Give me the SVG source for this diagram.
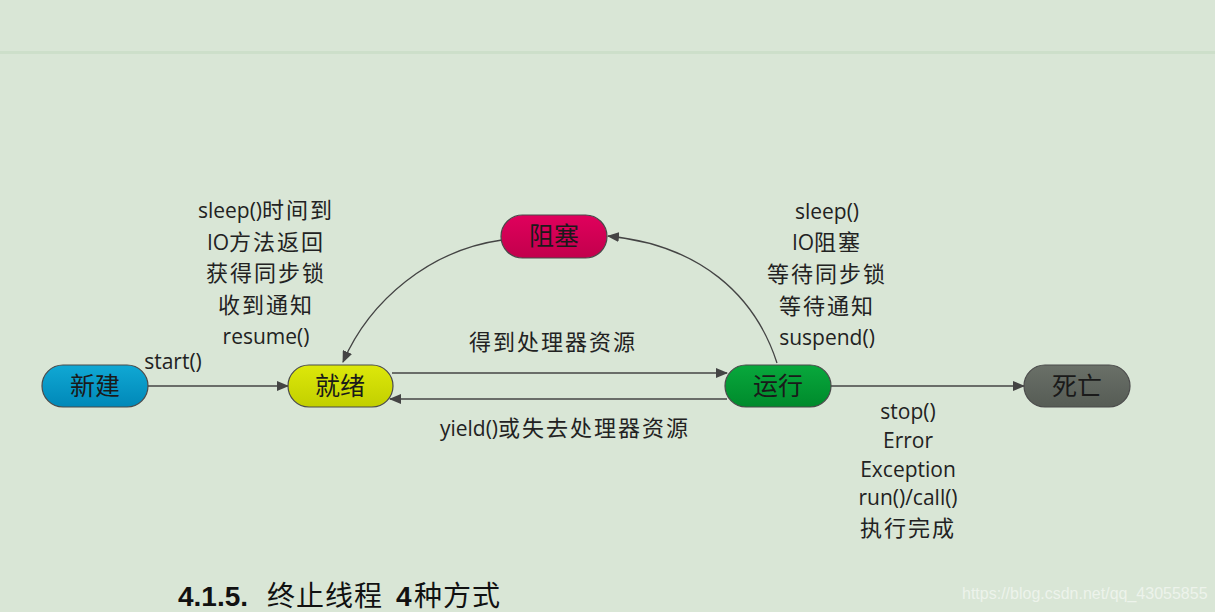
<svg xmlns="http://www.w3.org/2000/svg" width="1215" height="612" viewBox="0 0 1215 612">
<style>
.node rect{stroke:#4a4a4a;stroke-width:1.2}
.nt{font-family:"Noto Sans CJK SC","Noto Sans",sans-serif;font-size:25px;fill:#1a1a1a;text-anchor:middle}
.lb{font-family:"Open Sans","Noto Sans CJK SC",sans-serif;font-size:21px;fill:#222;text-anchor:middle}
.cj{font-size:22px;letter-spacing:2px}
.conn path,.conn line{stroke:#444;stroke-width:1.3;fill:none}
.tt{font-family:"Liberation Sans","Noto Sans CJK SC",sans-serif;font-weight:bold;fill:#111;font-size:28px}
.tc{font-weight:normal;letter-spacing:1px}
</style>
<defs>
<marker id="ah" markerWidth="12" markerHeight="10" refX="11" refY="5" orient="auto" markerUnits="userSpaceOnUse">
<path d="M0,0 L12,5 L0,10 Z" fill="#444"/>
</marker>
<linearGradient id="gB" x1="0" y1="0" x2="0" y2="1"><stop offset="0" stop-color="#10a8d4"/><stop offset="1" stop-color="#0088b8"/></linearGradient>
<linearGradient id="gY" x1="0" y1="0" x2="0" y2="1"><stop offset="0" stop-color="#dde80a"/><stop offset="1" stop-color="#c2cf00"/></linearGradient>
<linearGradient id="gR" x1="0" y1="0" x2="0" y2="1"><stop offset="0" stop-color="#e0005c"/><stop offset="1" stop-color="#c2004c"/></linearGradient>
<linearGradient id="gG" x1="0" y1="0" x2="0" y2="1"><stop offset="0" stop-color="#08a83c"/><stop offset="1" stop-color="#008a2c"/></linearGradient>
<linearGradient id="gK" x1="0" y1="0" x2="0" y2="1"><stop offset="0" stop-color="#6a7068"/><stop offset="1" stop-color="#565c55"/></linearGradient>
</defs>
<rect width="1215" height="612" fill="#d9e6d6"/>
<rect x="0" y="51" width="1215" height="3" fill="#cddfca"/>

<g class="conn">
<line x1="148" y1="386" x2="288" y2="386" marker-end="url(#ah)"/>
<line x1="392" y1="373" x2="727" y2="373" marker-end="url(#ah)"/>
<line x1="727" y1="399" x2="390" y2="399" marker-end="url(#ah)"/>
<line x1="831" y1="386" x2="1024" y2="386" marker-end="url(#ah)"/>
<path d="M777,363 C755,295 700,245 608,236" marker-end="url(#ah)"/>
<path d="M502,240 C430,250 370,300 343,362" marker-end="url(#ah)"/>
</g>

<g id="n-new" class="node"><rect x="42" y="365" width="106" height="42" rx="21" fill="url(#gB)"/><text class="nt" x="95" y="395">新建</text></g>
<g id="n-ready" class="node"><rect x="288" y="365" width="105" height="42" rx="21" fill="url(#gY)"/><text class="nt" x="340" y="395">就绪</text></g>
<g id="n-block" class="node"><rect x="501" y="215" width="106" height="43" rx="21.5" fill="url(#gR)"/><text class="nt" x="554" y="245">阻塞</text></g>
<g id="n-run" class="node"><rect x="725" y="365" width="106" height="42" rx="21" fill="url(#gG)"/><text class="nt" x="778" y="395">运行</text></g>
<g id="n-dead" class="node"><rect x="1024" y="365" width="106" height="42" rx="21" fill="url(#gK)"/><text class="nt" x="1077" y="395">死亡</text></g>

<g id="labels">
<text class="lb" x="266" y="218">sleep()<tspan class="cj">时间到</tspan></text>
<text class="lb" x="266" y="250">IO<tspan class="cj">方法返回</tspan></text>
<text class="lb" x="266" y="281"><tspan class="cj">获得同步锁</tspan></text>
<text class="lb" x="266" y="313"><tspan class="cj">收到通知</tspan></text>
<text class="lb" x="266" y="344">resume()</text>
<text class="lb" x="173" y="369">start()</text>
<text class="lb" x="827" y="219">sleep()</text>
<text class="lb" x="827" y="250">IO<tspan class="cj">阻塞</tspan></text>
<text class="lb" x="827" y="282"><tspan class="cj">等待同步锁</tspan></text>
<text class="lb" x="827" y="314"><tspan class="cj">等待通知</tspan></text>
<text class="lb" x="827" y="345">suspend()</text>
<text class="lb" x="553" y="350"><tspan class="cj">得到处理器资源</tspan></text>
<text class="lb" x="565" y="436">yield()<tspan class="cj">或失去处理器资源</tspan></text>
<text class="lb" x="908" y="419">stop()</text>
<text class="lb" x="908" y="448">Error</text>
<text class="lb" x="908" y="477">Exception</text>
<text class="lb" x="908" y="505">run()/call()</text>
<text class="lb" x="908" y="536"><tspan class="cj">执行完成</tspan></text>
</g>
<text class="tt" y="606"><tspan x="178">4.1.5.</tspan><tspan class="tc" x="267">终止线程</tspan><tspan x="396">4</tspan><tspan class="tc" x="414">种方式</tspan></text>
<text x="962" y="599" font-family="Liberation Sans,sans-serif" font-size="16" fill="#f4f8f3" fill-opacity="0.75">https://blog.csdn.net/qq_43055855</text>
</svg>
